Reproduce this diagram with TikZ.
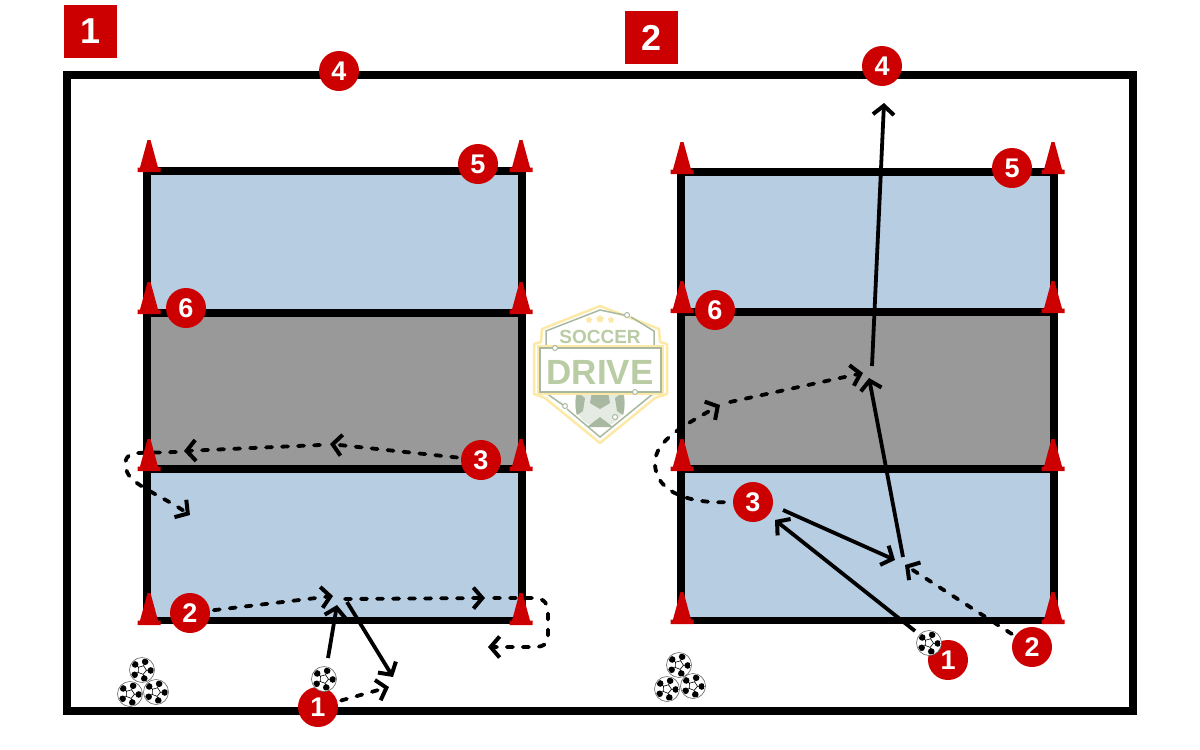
\documentclass[tikz,border=0pt]{standalone}
\usepackage{fontspec}
\setmainfont{Liberation Sans}
\usepackage{xcolor}
\usetikzlibrary{arrows.meta,shapes.geometric}
\definecolor{drillred}{HTML}{CC0000}
\definecolor{zoneblue}{HTML}{B7CDE2}
\definecolor{zonegray}{HTML}{999999}
\definecolor{logosage}{HTML}{B9CCA3}
\definecolor{logoline}{HTML}{A9B8A0}
\definecolor{logogold}{HTML}{FCE9A6}
\tikzset{
  frameline/.style={draw=black, line width=8pt},
  zone/.style={draw=black, line width=7.5pt},
  badge/.style={circle, fill=drillred, text=white, minimum size=40pt, inner sep=0pt, outer sep=4pt, font=\fontsize{27}{27}\selectfont\bfseries},
  tag/.style={fill=drillred, text=white, minimum size=53pt, inner sep=0pt, font=\fontsize{36}{36}\selectfont\bfseries},
  run/.style={-{Straight Barb[length=9pt,width=21pt,line width=4pt]}, line width=3.8pt, draw=black},
  pass/.style={run, line cap=round, dash pattern=on 6pt off 10pt},
  cone/.pic={
    \fill[drillred] (-11.5,0) -- (-11.5,-4.5) -- (-9,-4.5) -- (-1.5,-32) -- (1.5,-32) -- (9,-4.5) -- (11.5,-4.5) -- (11.5,0) -- cycle;
  },
  ballpic/.pic={
    \draw[fill=white, draw=black!60, line width=0.6pt] (0,0) circle (12.5);
    \begin{scope}
      \clip (0,0) circle (11.6);
      \fill[black] (75:8.8) circle (3.3) (147:8.8) circle (3.3) (219:8.8) circle (3.3) (291:8.8) circle (3.3) (3:8.8) circle (3.3);
    \end{scope}
    \draw[black, line width=0.6pt] (75:4.5) -- (147:4.5) -- (219:4.5) -- (291:4.5) -- (3:4.5) -- cycle;
    \draw[black, line width=0.6pt] (75:4.5) -- (75:8) (147:4.5) -- (147:8) (219:4.5) -- (219:8) (291:4.5) -- (291:8) (3:4.5) -- (3:8);
  },
  logotext/.style={text=logosage, inner sep=0pt},
  logostar/.style={star, star points=5, fill=logogold, minimum size=7pt, inner sep=0pt},
  logodot/.style={circle, draw=logoline, fill=white, line width=1pt, minimum size=5pt, inner sep=0pt}
}
\begin{document}
\begin{tikzpicture}[x=1pt, y=-1pt]
  \useasboundingbox (0,0) rectangle (1200,750);
  \draw[frameline] (66.7,74.5) rectangle (1132.5,711);

  \draw[zone, fill=zoneblue] (147,171) rectangle (522,313);
  \draw[zone, fill=zoneblue] (147,469) rectangle (522,620.5);
  \draw[zone, fill=zonegray] (147,313) rectangle (522,469);
  \draw[zone, fill=zoneblue] (681,172) rectangle (1054,312);
  \draw[zone, fill=zoneblue] (681,469) rectangle (1054,620.5);
  \draw[zone, fill=zonegray] (681,312) rectangle (1054,469);

  \node[tag] (tagleft) at (90.5,31.5) {1};
  \node[tag] (tagright) at (651.5,37.5) {2};

  \node[badge] (lone) at (318,707) {1};
  \node[badge] (ltwo) at (190,613) {2};
  \node[badge] (lthree) at (481,460) {3};
  \node[badge] (lfour) at (339,71) {4};
  \node[badge] (lfive) at (478,164) {5};
  \node[badge] (lsix) at (186,308) {6};
  \node[badge] (rone) at (948,660) {1};
  \node[badge] (rtwo) at (1032,647) {2};
  \node[badge] (rthree) at (753,502) {3};
  \node[badge] (rfour) at (882,66) {4};
  \node[badge] (rfive) at (1012,168) {5};
  \node[badge] (rsix) at (715,310) {6};

  \coordinate (lballtop) at (328,658);
  \coordinate (ltrap) at (337,605);
  \coordinate (lsend) at (347,602);
  \coordinate (lwide) at (393,677);
  \coordinate (lcheck) at (389,687);
  \coordinate (lmeet) at (333,596);
  \coordinate (lstart) at (345,599);
  \coordinate (lmid) at (485,598);
  \coordinate (lmidout) at (494,598);
  \coordinate (lback) at (488,647);
  \coordinate (ltop) at (330,444);
  \coordinate (ltopout) at (320,445);
  \coordinate (lcone) at (184,451);
  \coordinate (lconeout) at (176,452);
  \coordinate (lend) at (190,515);

  \draw[run] (lballtop) -- (ltrap);
  \draw[run] (lsend) -- (lwide);
  \draw[pass] (lone) -- (lcheck);
  \draw[pass] (ltwo) -- (lmeet);
  \draw[pass] (lstart) -- (lmid);
  \draw[pass] (lmidout) -- (533,598) .. controls (545,598) and (548,604) .. (548,614) -- (548,636) .. controls (548,644) and (543,647) .. (534,647) -- (lback);
  \draw[pass] (lthree) -- (ltop);
  \draw[pass] (ltopout) -- (lcone);
  \draw[pass] (lconeout) -- (136,453) .. controls (124,454) and (122,466) .. (130,477) .. controls (140,488) and (165,498) .. (lend);

  \coordinate (rballtop) at (915,631);
  \coordinate (rtothree) at (775,520);
  \coordinate (rfromthree) at (783,510);
  \coordinate (rwall) at (895,560);
  \coordinate (rrun) at (905,565);
  \coordinate (rshot) at (903,557);
  \coordinate (rturn) at (869,378);
  \coordinate (rup) at (872,366);
  \coordinate (rgoal) at (884,103);
  \coordinate (rout) at (720,405);
  \coordinate (routnext) at (730,402);
  \coordinate (rmeet) at (863,373);

  \draw[run] (rballtop) -- (rtothree);
  \draw[run] (rfromthree) -- (rwall);
  \draw[pass] (rtwo) -- (rrun);
  \draw[run] (rshot) -- (rturn);
  \draw[run] (rup) -- (rgoal);
  \draw[pass, shorten <=5pt] (rthree.west) .. controls (695,503) and (655,495) .. (655,463) .. controls (655,440) and (685,425) .. (rout);
  \draw[pass] (routnext) -- (rmeet);

  \pic at (149,172) {cone};
  \pic at (521,172) {cone};
  \pic at (149,314) {cone};
  \pic at (521,314) {cone};
  \pic at (149,471) {cone};
  \pic at (521,471) {cone};
  \pic at (149,625) {cone};
  \pic at (521,625) {cone};
  \pic at (682,174) {cone};
  \pic at (1053,174) {cone};
  \pic at (682,313) {cone};
  \pic at (1053,313) {cone};
  \pic at (682,471) {cone};
  \pic at (1053,471) {cone};
  \pic at (682,624) {cone};
  \pic at (1053,624) {cone};

  \pic at (142,670) {ballpic};
  \pic at (130,694) {ballpic};
  \pic at (156,692) {ballpic};
  \pic at (324,679) {ballpic};
  \pic at (679,665) {ballpic};
  \pic at (667,689) {ballpic};
  \pic at (693,686) {ballpic};
  \pic at (929,643) {ballpic};

  % logo
  \draw[logogold, line width=2.5pt, fill=white, line join=round] (600,306) -- (659,329) -- (660,342) -- (667,344) -- (667,394) -- (655,398) -- (600,443) -- (545,398) -- (534,394) -- (534,344) -- (541,342) -- (542,329) -- cycle;
  \fill[logoline!30] (600,402) circle (25);
  \fill[logoline] (592,392) -- (608,392) -- (610,403) -- (600,409) -- (590,403) -- cycle;
  \fill[logoline] (577,392) -- (585,398) -- (583,411) -- (577,415) .. controls (575,410) and (575,400) .. cycle;
  \fill[logoline] (623,392) -- (615,398) -- (617,411) -- (623,415) .. controls (625,410) and (625,400) .. cycle;
  \fill[logoline] (587,427) -- (600,417) -- (613,427) -- cycle;
  \fill[white] (575,392) rectangle (625,394);
  \draw[logoline, line width=1.5pt] (546,347) -- (546,331) -- (600,310) -- (624,315);
  \draw[logoline, line width=1.5pt] (631,317) -- (654,331) -- (654,347);
  \draw[logoline, line width=1.5pt] (546,393) -- (563,405);
  \draw[logoline, line width=1.5pt] (567,409) -- (600,437) -- (654,393);
  \draw[logogold, line width=1.5pt, fill=white] (538,346) rectangle (663,394);
  \draw[logoline, line width=1.5pt] (540,348) rectangle (661,392);
  \node[logostar] (starone) at (589,320) {};
  \node[logostar, minimum size=8.5pt] (startwo) at (600,319) {};
  \node[logostar] (starthree) at (611,320) {};
  \node[logotext, font=\fontsize{19}{19}\selectfont\bfseries] (soccer) at (600,337) {SOCCER};
  \node[logotext, font=\fontsize{35}{35}\selectfont\bfseries] (drive) at (600,372) {DRIVE};
  \node[logodot] (dotone) at (627,315) {};
  \node[logodot] (dottwo) at (555,348) {};
  \node[logodot] (dotthree) at (635,392) {};
  \node[logodot] (dotfour) at (565,406) {};
  \node[logodot] (dotfive) at (615,417) {};
\end{tikzpicture}
\end{document}
